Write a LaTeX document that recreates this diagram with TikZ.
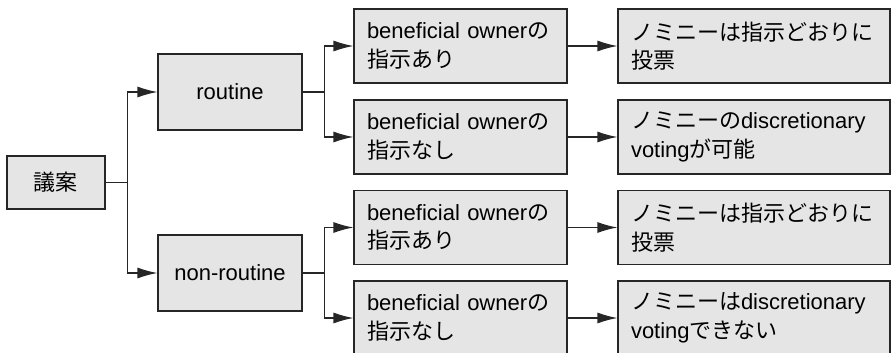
\documentclass[tikz,border=0pt]{standalone}
\usepackage{fontspec}
\setmainfont{Liberation Sans}
\newfontfamily\jp{Noto Sans CJK JP}
\usetikzlibrary{arrows.meta}

\begin{document}
\begin{tikzpicture}[x=1pt,y=-1pt,>={Latex[length=20pt,width=11pt]},
	box/.style={draw=black!85,line width=1.2pt,fill=black!10,font=\fontsize{22}{28.5}\selectfont},
	kind/.style={box,minimum width=144pt,minimum height=76pt},
	case/.style={box,text width=187pt,inner xsep=13pt,minimum height=74pt,align=left},
	result/.style={box,text width=246pt,inner xsep=13pt,minimum height=74pt,align=left},
	link/.style={->,line width=1.2pt,black!85}]
	\useasboundingbox (0,0) rectangle (892,353);
	
	\node[box,minimum width=98pt,minimum height=53pt] (agenda) at (56,182.5) {\jp 議案};
	
	\node[kind] (routine) at (230,92) {routine};
	\node[kind] (nonroutine) at (230,273) {non-routine};
	
	\node[case] (rtYes) at (460.5,46) {beneficial owner{\jp の}\\{\jp 指示あり}};
	\node[case] (rtNo) at (460.5,137) {beneficial owner{\jp の}\\{\jp 指示なし}};
	\node[case] (nrYes) at (460.5,227.5) {beneficial owner{\jp の}\\{\jp 指示あり}};
	\node[case] (nrNo) at (460.5,318) {beneficial owner{\jp の}\\{\jp 指示なし}};
	
	\node[result] (rtYesVote) at (754,46) {{\jp ノミニーは指示どおりに}\\{\jp 投票}};
	\node[result] (rtNoVote) at (754,137) {{\jp ノミニーの}discretionary\\voting{\jp が可能}};
	\node[result] (nrYesVote) at (754,227.5) {{\jp ノミニーは指示どおりに}\\{\jp 投票}};
	\node[result] (nrNoVote) at (754,318) {{\jp ノミニーは}discretionary\\voting{\jp できない}};
	
	\draw[link] (agenda.east) -- ++(22,0) |- (routine.west);
	\draw[link] (agenda.east) -- ++(22,0) |- (nonroutine.west);
	
	\draw[link] (routine.east) -- ++(22,0) |- (rtYes.west);
	\draw[link] (routine.east) -- ++(22,0) |- (rtNo.west);
	\draw[link] (nonroutine.east) -- ++(22,0) |- (nrYes.west);
	\draw[link] (nonroutine.east) -- ++(22,0) |- (nrNo.west);
	
	\draw[link] (rtYes) -- (rtYesVote);
	\draw[link] (rtNo) -- (rtNoVote);
	\draw[link] (nrYes) -- (nrYesVote);
	\draw[link] (nrNo) -- (nrNoVote);
\end{tikzpicture}
\end{document}
